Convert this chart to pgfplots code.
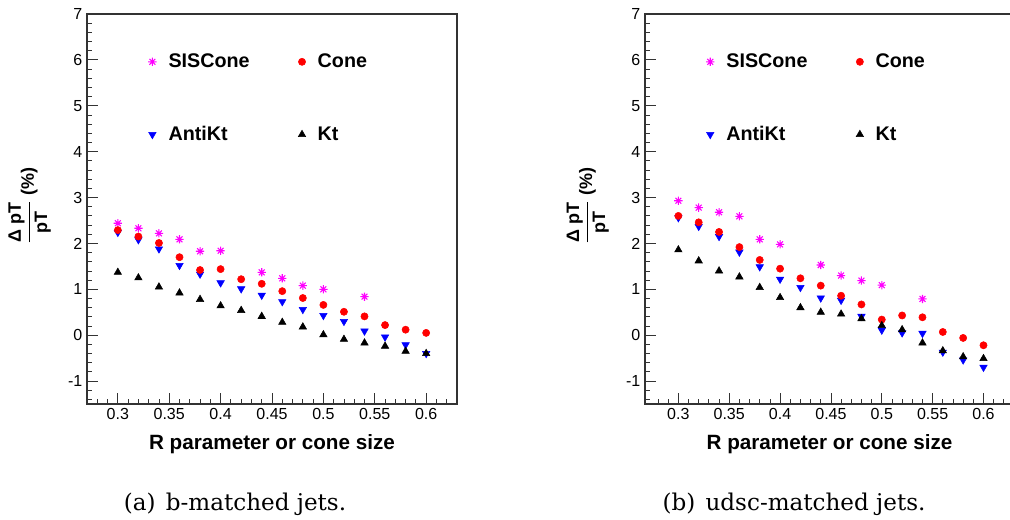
\documentclass[border=0pt]{standalone}
\usepackage{pgfplots}
\pgfplotsset{compat=1.18}
\usepackage{pgfplotstable}
\usepackage{fontspec}
\setmainfont{Liberation Sans}
\newfontfamily\capfont{DejaVu Serif}
\definecolor{rootmagenta}{RGB}{255,0,255}
\definecolor{rootblue}{RGB}{0,0,255}
\definecolor{rootred}{RGB}{255,0,0}

\pgfdeclareplotmark{rootstar}{%
  \pgfpathmoveto{\pgfqpoint{-\pgfplotmarksize}{0pt}}\pgfpathlineto{\pgfqpoint{\pgfplotmarksize}{0pt}}%
  \pgfpathmoveto{\pgfqpoint{0pt}{-\pgfplotmarksize}}\pgfpathlineto{\pgfqpoint{0pt}{\pgfplotmarksize}}%
  \pgfpathmoveto{\pgfqpoint{-0.707\pgfplotmarksize}{-0.707\pgfplotmarksize}}\pgfpathlineto{\pgfqpoint{0.707\pgfplotmarksize}{0.707\pgfplotmarksize}}%
  \pgfpathmoveto{\pgfqpoint{-0.707\pgfplotmarksize}{0.707\pgfplotmarksize}}\pgfpathlineto{\pgfqpoint{0.707\pgfplotmarksize}{-0.707\pgfplotmarksize}}%
  \pgfusepathqstroke}

\pgfplotstableread{
R    sis   cone  anti   kt
0.30 2.44  2.29  2.24   1.37
0.32 2.33  2.15  2.08   1.25
0.34 2.22  2.01  1.88   1.05
0.36 2.09  1.70  1.52   0.92
0.38 1.83  1.42  1.33   0.78
0.40 1.84  1.44  1.14   0.64
0.42 nan   1.22  1.01   0.54
0.44 1.37  1.12  0.87   0.41
0.46 1.24  0.96  0.73   0.28
0.48 1.08  0.81  0.56   0.18
0.50 1.00  0.66  0.43   0.01
0.52 nan   0.51  0.30  -0.09
0.54 0.84  0.41  0.09  -0.17
0.56 nan   0.22 -0.04  -0.24
0.58 nan   0.12 -0.21  -0.35
0.60 nan   0.05 -0.40  -0.40
}\leftdata

\pgfplotstableread{
R    sis   cone  anti   kt
0.30 2.93  2.60  2.56   1.86
0.32 2.78  2.46  2.37   1.62
0.34 2.68  2.25  2.15   1.40
0.36 2.59  1.92  1.81   1.27
0.38 2.09  1.64  1.49   1.04
0.40 1.98  1.45  1.22   0.82
0.42 nan   1.24  1.04   0.60
0.44 1.53  1.08  0.81   0.50
0.46 1.30  0.86  0.76   0.46
0.48 1.19  0.67  0.41   0.36
0.50 1.09  0.34  0.11   0.21
0.52 nan   0.43  0.05   0.12
0.54 0.79  0.39  0.04  -0.17
0.56 nan   0.07 -0.37  -0.34
0.58 nan  -0.06 -0.54  -0.47
0.60 nan  -0.22 -0.70  -0.51
}\rightdata

\pgfplotsset{
  rootleg/.style={legend image code/.code={\draw[##1] plot coordinates {(0pt,0pt)};}},
  sisstyle/.style={only marks, mark=rootstar, color=rootmagenta, mark size=3.1pt, line width=0.8pt},
  conestyle/.style={only marks, mark=*, color=rootred, mark size=2.7pt},
  antistyle/.style={only marks, mark=triangle*, color=rootblue, mark size=3.2pt, mark options={rotate=180}},
  ktstyle/.style={only marks, mark=triangle*, color=black, mark size=3.2pt},
  rootaxis/.style={
    scale only axis, height=292.5pt,
    ymin=-1.5, ymax=7,
    xtick={0.3,0.35,0.4,0.45,0.5,0.55,0.6},
    xticklabels={0.3,0.35,0.4,0.45,0.5,0.55,0.6},
    minor xtick={0.28,0.29,0.31,0.32,0.33,0.34,0.36,0.37,0.38,0.39,0.41,0.42,0.43,0.44,0.46,0.47,0.48,0.49,0.51,0.52,0.53,0.54,0.56,0.57,0.58,0.59,0.61,0.62},
    ytick={-1,0,1,2,3,4,5,6,7},
    yticklabels={-1,0,1,2,3,4,5,6,7},
    minor ytick={-1.4,-1.2,-0.8,-0.6,-0.4,-0.2,0.2,0.4,0.6,0.8,1.2,1.4,1.6,1.8,2.2,2.4,2.6,2.8,3.2,3.4,3.6,3.8,4.2,4.4,4.6,4.8,5.2,5.4,5.6,5.8,6.2,6.4,6.6,6.8},
    xtick pos=bottom, ytick pos=left, tick align=inside,
    major tick length=8pt, minor tick length=4pt,
    ticklabel style={font=\fontsize{12}{14}\selectfont},
    axis line style={black!80, line width=0.9pt},
    tick style={black!80, line width=0.6pt},
    xlabel={R parameter or cone size},
    xlabel style={font=\bfseries\fontsize{15.5}{18}\selectfont, at={(axis description cs:0.5,-0.1154)}, anchor=base},
    ylabel={$\displaystyle\frac{\mbox{Δ pT}}{\mbox{pT}}$ (\%)},
    ylabel style={font=\bfseries\fontsize{13.5}{15}\selectfont, at={(axis description cs:-0.155,0.508)}, anchor=center},
    legend columns=2, legend cell align=left,
    legend style={draw=none, fill=none, at={(0.154,0.912)}, anchor=north west,
      font=\bfseries\fontsize{14.8}{17}\selectfont, row sep=38.5pt,
      /tikz/every odd column/.append style={column sep=7pt},
      /tikz/every even column/.append style={column sep=34.5pt}},
  }
}

\begin{document}
\begin{tikzpicture}
\begin{axis}[rootaxis, at={(65.25pt,-303pt)}, anchor=south west, width=277.5pt, xmin=0.27, xmax=0.63]
\addplot[forget plot, sisstyle] table[x=R,y=sis]{\leftdata};
\addplot[forget plot, antistyle] table[x=R,y=anti]{\leftdata};
\addplot[forget plot, conestyle] table[x=R,y=cone]{\leftdata};
\addplot[forget plot, ktstyle] table[x=R,y=kt]{\leftdata};
\addlegendimage{sisstyle, rootleg}\addlegendentry{SISCone}
\addlegendimage{conestyle, rootleg}\addlegendentry{Cone}
\addlegendimage{antistyle, rootleg}\addlegendentry{AntiKt}
\addlegendimage{ktstyle, rootleg}\addlegendentry{Kt}
\end{axis}
\begin{axis}[rootaxis, at={(483.75pt,-303pt)}, anchor=south west, width=276.75pt, xmin=0.2672, xmax=0.63]
\addplot[forget plot, sisstyle] table[x=R,y=sis]{\rightdata};
\addplot[forget plot, antistyle] table[x=R,y=anti]{\rightdata};
\addplot[forget plot, conestyle] table[x=R,y=cone]{\rightdata};
\addplot[forget plot, ktstyle] table[x=R,y=kt]{\rightdata};
\addlegendimage{sisstyle, rootleg}\addlegendentry{SISCone}
\addlegendimage{conestyle, rootleg}\addlegendentry{Cone}
\addlegendimage{antistyle, rootleg}\addlegendentry{AntiKt}
\addlegendimage{ktstyle, rootleg}\addlegendentry{Kt}
\end{axis}
\node[anchor=base, font=\capfont\fontsize{17.3}{20}\selectfont] at (176.25pt,-383pt) {(a)\hspace{0.45em}b-matched jets.};
\node[anchor=base, font=\capfont\fontsize{17.3}{20}\selectfont] at (595.5pt,-383pt) {(b)\hspace{0.45em}udsc-matched jets.};
\pgfresetboundingbox
\useasboundingbox (0pt,0pt) rectangle (757.5pt,-389.25pt);
\end{tikzpicture}
\end{document}
